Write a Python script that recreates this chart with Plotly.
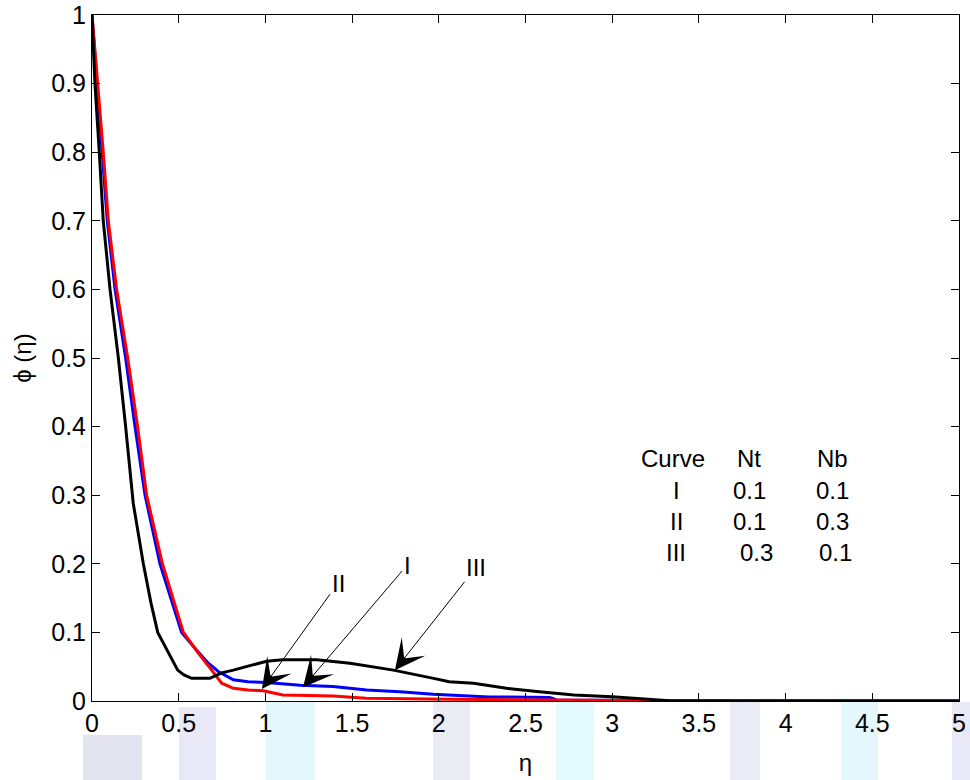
import plotly.graph_objects as go

# ---- data ----
eta_I = [0, 0.03, 0.06, 0.088, 0.133, 0.194, 0.248, 0.306, 0.392, 0.517, 0.60, 0.671,
         0.728, 0.815, 0.90, 1.007, 1.2, 1.39, 1.584, 1.776, 1.968, 2.06, 2.29, 2.64,
         2.68, 3.0, 3.33, 5.0]
phi_I = [1, 0.9, 0.8, 0.7, 0.6, 0.5, 0.4, 0.3, 0.2, 0.1, 0.075, 0.055,
         0.043, 0.031, 0.028, 0.027, 0.023, 0.021, 0.016, 0.0136, 0.010, 0.0087, 0.006, 0.005,
         0.0015, 0.001, 0.0005, 0]

eta_II = [0, 0.033, 0.065, 0.094, 0.142, 0.206, 0.263, 0.315, 0.406, 0.527, 0.613, 0.69,
          0.748, 0.815, 0.90, 0.988, 1.1, 1.39, 1.58, 2.06, 2.5, 3.0, 3.33, 5.0]
phi_II = [1, 0.9, 0.8, 0.7, 0.6, 0.5, 0.4, 0.3, 0.2, 0.1, 0.07, 0.045,
          0.026, 0.0185, 0.016, 0.015, 0.0087, 0.0073, 0.004, 0.0025, 0.0015, 0.001, 0.0005, 0]

eta_III = [0, 0.017, 0.042, 0.065, 0.104, 0.152, 0.194, 0.238, 0.296, 0.34, 0.379, 0.45,
           0.494, 0.53, 0.575, 0.68, 0.748, 0.815, 0.911, 1.007, 1.1, 1.296, 1.488, 1.738,
           1.97, 2.06, 2.2, 2.39, 2.58, 2.78, 3.0, 3.16, 3.33, 3.5, 5.0]
phi_III = [1, 0.9, 0.8, 0.7, 0.6, 0.5, 0.4, 0.288, 0.2, 0.143, 0.1, 0.065,
           0.045, 0.038, 0.033, 0.033, 0.041, 0.045, 0.052, 0.058, 0.060, 0.060, 0.055, 0.045,
           0.033, 0.028, 0.026, 0.0185, 0.0136, 0.0087, 0.0063, 0.004, 0.0005, 0, 0]

curve_names = ["I", "II", "III"]
nt_values = ["0.1", "0.1", "0.3"]
nb_values = ["0.1", "0.3", "0.1"]

# arrow labels: (label, tip eta, tip phi, label eta, label phi)
arrow_labels = ["II", "I", "III"]
arrow_tip_eta = [0.98, 1.217, 1.747]
arrow_tip_phi = [0.0175, 0.020, 0.045]
arrow_lab_eta = [1.419, 1.817, 2.215]
arrow_lab_phi = [0.172, 0.198, 0.195]

x_ticks = [0, 0.5, 1, 1.5, 2, 2.5, 3, 3.5, 4, 4.5, 5]
y_ticks = [0, 0.1, 0.2, 0.3, 0.4, 0.5, 0.6, 0.7, 0.8, 0.9, 1]

FONT = "Liberation Sans, Arial, sans-serif"
FS = 24
TFS = 25

fig = go.Figure()
fig.add_trace(go.Scatter(x=eta_I, y=phi_I, mode="lines", name="I",
                         line=dict(color="#0000ff", width=3)))
fig.add_trace(go.Scatter(x=eta_II, y=phi_II, mode="lines", name="II",
                         line=dict(color="#ff0000", width=3)))
fig.add_trace(go.Scatter(x=eta_III, y=phi_III, mode="lines", name="III",
                         line=dict(color="#000000", width=3)))

annotations = []
for lab, tx, ty, lx, ly in zip(arrow_labels, arrow_tip_eta, arrow_tip_phi,
                               arrow_lab_eta, arrow_lab_phi):
    annotations.append(dict(x=tx, y=ty, xref="x", yref="y", ax=lx, ay=ly,
                            axref="x", ayref="y", text=lab, showarrow=True,
                            arrowhead=3, arrowsize=5, arrowwidth=1,
                            arrowcolor="black", font=dict(size=FS, color="black", family=FONT)))

# parameter table
col_x = [3.35, 3.79, 4.27]
row_y = [0.354, 0.307, 0.261, 0.216]
header = ["Curve", "Nt", "Nb"]
for cx, h in zip(col_x, header):
    annotations.append(dict(x=cx, y=row_y[0], xref="x", yref="y", text=h,
                            showarrow=False, font=dict(size=FS, color="black", family=FONT)))
row_shift = [0.0, 0.0, 0.04]
for i, (cn, nt, nb) in enumerate(zip(curve_names, nt_values, nb_values)):
    ry = row_y[i + 1]
    annotations.append(dict(x=3.37, y=ry, xref="x", yref="y", text=cn, showarrow=False,
                            font=dict(size=FS, color="black", family=FONT)))
    annotations.append(dict(x=col_x[1] + row_shift[i], y=ry, xref="x", yref="y", text=nt,
                            showarrow=False, font=dict(size=FS, color="black", family=FONT)))
    annotations.append(dict(x=col_x[2] + row_shift[i] / 2, y=ry, xref="x", yref="y", text=nb,
                            showarrow=False, font=dict(size=FS, color="black", family=FONT)))

# faint background watermark strips below the axes (decorative)
def px_x(p):
    return (p - 92) / 867.0

def px_y(p):
    return (701 - p) / 686.0

wm = [(83, 142, 735, "rgba(205,205,230,0.55)"),
      (179, 216, 707, "rgba(210,210,238,0.5)"),
      (266, 315, 702, "rgba(205,240,250,0.55)"),
      (433, 470, 702, "rgba(210,210,228,0.45)"),
      (556, 594, 702, "rgba(205,245,250,0.55)"),
      (730, 760, 702, "rgba(210,210,238,0.45)"),
      (841, 878, 702, "rgba(205,240,250,0.55)"),
      (952, 975, 702, "rgba(210,210,238,0.5)")]
shapes = []
for x0, x1, y0, col in wm:
    shapes.append(dict(type="rect", xref="paper", yref="paper",
                       x0=px_x(x0), x1=px_x(x1), y0=px_y(782), y1=px_y(y0),
                       fillcolor=col, line=dict(width=0), layer="below"))

axis_common = dict(showline=True, linecolor="black", linewidth=1, mirror="ticks",
                   ticks="inside", ticklen=8, tickcolor="black", showgrid=False,
                   zeroline=False, automargin=False,
                   tickfont=dict(size=TFS, color="black", family=FONT))

fig.update_layout(
    width=970, height=780,
    margin=dict(l=92, r=11, t=15, b=79),
    paper_bgcolor="white", plot_bgcolor="white",
    showlegend=False,
    font=dict(family=FONT, color="black"),
    xaxis=dict(range=[0, 5], tickvals=x_ticks, **axis_common,
               title=dict(text="η", font=dict(size=FS, family=FONT), standoff=18)),
    yaxis=dict(range=[0, 1], tickvals=y_ticks, **axis_common,
               title=dict(text="ϕ (η)", font=dict(size=FS, family=FONT), standoff=12)),
    annotations=annotations,
    shapes=shapes,
)

fig.write_html("out.html", config={"displayModeBar": False},
               post_script="document.body.style.margin='0';document.body.style.overflow='hidden';")
